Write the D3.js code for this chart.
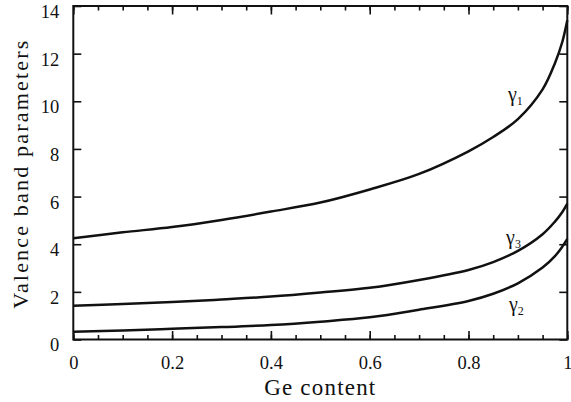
<!DOCTYPE html>
<html>
<head>
<meta charset="utf-8">
<script src="https://cdn.jsdelivr.net/npm/d3@7"></script>
<style>
  html, body { margin: 0; padding: 0; background: #fff; }
  svg { display: block; }
</style>
</head>
<body>
<svg id="chart" width="571" height="402"></svg>
<script>
// Luttinger valence band parameters of Si(1-x)Ge(x) versus Ge content
const geContent = [0, 0.1, 0.2, 0.3, 0.4, 0.5, 0.6, 0.7, 0.8, 0.85, 0.9, 0.95, 0.975, 0.99, 1.0];
const gamma1 = [4.25, 4.50, 4.72, 5.02, 5.37, 5.75, 6.30, 6.95, 7.90, 8.50, 9.25, 10.5, 11.6, 12.5, 13.4];
const gamma2 = [0.33, 0.38, 0.45, 0.52, 0.61, 0.75, 0.93, 1.25, 1.62, 1.92, 2.36, 3.02, 3.5, 3.9, 4.22];
const gamma3 = [1.42, 1.49, 1.57, 1.68, 1.80, 1.97, 2.17, 2.50, 2.92, 3.25, 3.72, 4.42, 4.95, 5.35, 5.7];

const xTickValues = [0, 0.2, 0.4, 0.6, 0.8, 1];
const xTickLabels = ["0", "0.2", "0.4", "0.6", "0.8", "1"];
const yTickValues = [0, 2, 4, 6, 8, 10, 12, 14];

const series = [
  { name: "1", values: gamma1, labelX: 0.88, labelY: 10.0 },
  { name: "3", values: gamma3, labelX: 0.876, labelY: 4.02 },
  { name: "2", values: gamma2, labelX: 0.882, labelY: 1.2 }
];

const serifFont = "'Liberation Serif', 'DejaVu Serif', serif";

const svg = d3.select("#chart");
const plotLeft = 73.3, plotRight = 567.3, plotTop = 6, plotBottom = 339.5;

const x = d3.scaleLinear().domain([0, 1]).range([plotLeft, plotRight]);
const y = d3.scaleLinear().domain([0, 14]).range([plotBottom, plotTop]);

const minorX = d3.range(0, 1.0001, 0.05).map(v => +v.toFixed(2));

// Frame
svg.append("rect")
  .attr("x", plotLeft).attr("y", plotTop)
  .attr("width", plotRight - plotLeft).attr("height", plotBottom - plotTop)
  .attr("fill", "none").attr("stroke", "#111").attr("stroke-width", 2);

// Bottom axis: major + minor inward ticks
const bottomAxis = svg.append("g").attr("transform", `translate(0,${plotBottom})`)
  .call(d3.axisBottom(x).tickValues(minorX).tickSize(-4.5).tickFormat(""));
bottomAxis.append("g")
  .call(d3.axisBottom(x).tickValues(xTickValues).tickSize(-8.5)
    .tickFormat((d, i) => xTickLabels[i]).tickPadding(16));

// Top axis ticks
const topAxis = svg.append("g").attr("transform", `translate(0,${plotTop})`)
  .call(d3.axisTop(x).tickValues(minorX).tickSize(-4.5).tickFormat(""));
topAxis.append("g")
  .call(d3.axisTop(x).tickValues(xTickValues).tickSize(-8.5).tickFormat(""));

// Left axis
const leftAxis = svg.append("g").attr("transform", `translate(${plotLeft},0)`)
  .call(d3.axisLeft(y).tickValues(yTickValues).tickSize(-8).tickPadding(14)
    .tickFormat(d3.format("d")));
leftAxis.selectAll(".tick text").attr("dy", "0.62em");

// Right axis
svg.append("g").attr("transform", `translate(${plotRight},0)`)
  .call(d3.axisRight(y).tickValues(yTickValues).tickSize(-8).tickFormat(""));

svg.selectAll(".domain").remove();
svg.selectAll("g").attr("font-family", serifFont);
svg.selectAll(".tick line").attr("stroke", "#111").attr("stroke-width", 1.6);
svg.selectAll(".tick text").attr("font-size", 18.5).attr("fill", "#111")
  .style("font-family", serifFont);

// Curves
const line = d3.line()
  .x((d, i) => x(geContent[i]))
  .y(d => y(d))
  .curve(d3.curveCatmullRom.alpha(0.5));

svg.append("g").selectAll("path")
  .data(series)
  .join("path")
  .attr("d", d => line(d.values))
  .attr("fill", "none")
  .attr("stroke", "#111")
  .attr("stroke-width", 2.5);

// Curve labels
const labels = svg.append("g").selectAll("text")
  .data(series)
  .join("text")
  .attr("x", d => x(d.labelX))
  .attr("y", d => y(d.labelY))
  .style("font-family", serifFont)
  .attr("fill", "#111")
  .attr("font-size", 20);
labels.append("tspan").text("γ");
labels.append("tspan").attr("dy", 4).attr("font-size", 12).text(d => d.name);

// Axis titles
svg.append("text")
  .attr("x", (plotLeft + plotRight) / 2 + 0)
  .attr("y", 395)
  .attr("text-anchor", "middle")
  .style("font-family", serifFont)
  .attr("fill", "#111")
  .attr("font-size", 23)
  .attr("letter-spacing", 1.2)
  .text("Ge content");

svg.append("text")
  .attr("transform", `translate(28,${(plotTop + plotBottom) / 2 + 2}) rotate(-90)`)
  .attr("text-anchor", "middle")
  .style("font-family", serifFont)
  .attr("fill", "#111")
  .attr("font-size", 22)
  .attr("textLength", 268)
  .attr("lengthAdjust", "spacing")
  .text("Valence band parameters");
</script>
</body>
</html>
